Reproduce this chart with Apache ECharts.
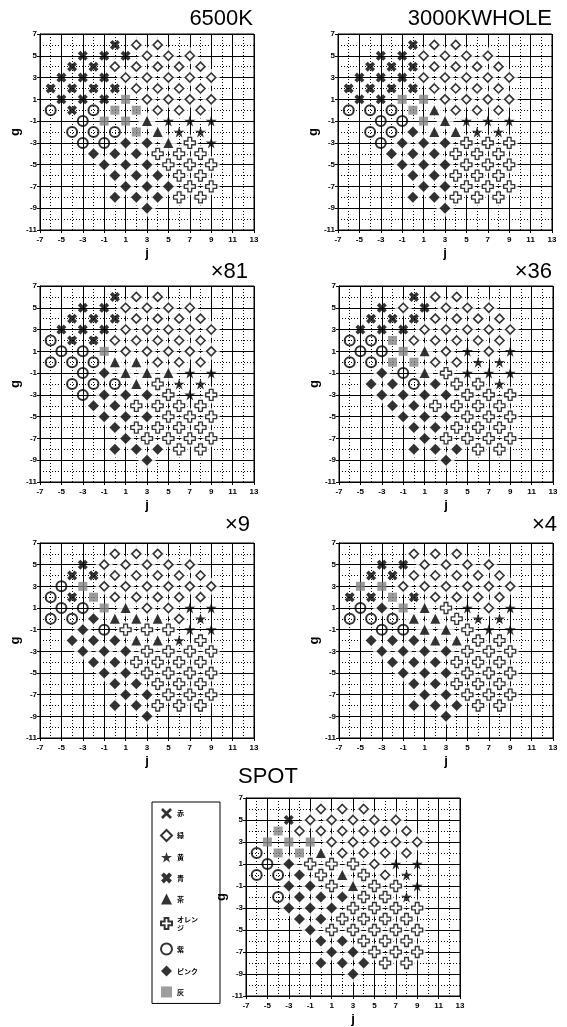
<!DOCTYPE html>
<html><head><meta charset="utf-8">
<script src="https://cdn.jsdelivr.net/npm/echarts@6/dist/echarts.min.js"></script>
<style>html,body{margin:0;padding:0;background:#fff}#c{width:567px;height:1027px}</style>
</head><body><div id="c"></div><script>
// ---------------- DATA ----------------
const categories = ['赤','緑','黄','青','茶','オレンジ','紫','ピンク','灰'];
const panelTitles = ['6500K','3000KWHOLE','×81','×36','×9','×4','SPOT'];
const jTicks = {min:-7, max:13, step:2, minorStep:1};
const gTicks = {min:-11, max:7, step:2, minorStep:1};

// Panel 1: 6500K
const k6500_ao = [[0,6],[-3,5],[-1,5],[1,5],[-4,4],[-2,4],[-5,3],[-3,3],[-1,3],[-6,2],[-4,2],[-2,2],[0,2],[-5,1],[-3,1],[-1,1],[-4,0]];
const k6500_midori = [[2,6],[4,6],[3,5],[5,5],[7,5],[0,4],[2,4],[4,4],[6,4],[8,4],[1,3],[3,3],[5,3],[7,3],[9,3],[2,2],[4,2],[6,2],[8,2],[3,1],[5,1],[7,1],[9,1],[4,0],[6,0],[8,0]];
const k6500_hai = [[1,1],[0,0],[2,0],[-1,-1],[1,-1],[2,-2]];
const k6500_murasaki = [[-6,0],[-2,0],[-3,-1],[-4,-2],[-2,-2],[0,-2],[-3,-3],[-1,-3]];
const k6500_cha = [[3,-1],[4,-2],[5,-3]];
const k6500_ki = [[5,-1],[7,-1],[9,-1],[6,-2],[8,-2],[9,-3]];
const k6500_orange = [[7,-3],[4,-4],[6,-4],[8,-4],[5,-5],[7,-5],[9,-5],[6,-6],[8,-6],[7,-7],[9,-7],[6,-8],[8,-8]];
const k6500_pink = [[1,-3],[3,-3],[-2,-4],[0,-4],[2,-4],[-1,-5],[1,-5],[3,-5],[0,-6],[2,-6],[4,-6],[1,-7],[3,-7],[5,-7],[0,-8],[2,-8],[4,-8],[3,-9]];

// Panel 2: 3000KWHOLE
const k3000_ao = [[0,6],[-3,5],[-1,5],[-4,4],[-2,4],[0,4],[-5,3],[-3,3],[-1,3],[-6,2],[-4,2],[-2,2],[0,2],[-5,1],[-3,1]];
const k3000_midori = [[2,6],[4,6],[1,5],[3,5],[5,5],[7,5],[2,4],[4,4],[6,4],[8,4],[1,3],[3,3],[5,3],[7,3],[9,3],[2,2],[4,2],[6,2],[8,2],[3,1],[5,1],[7,1],[9,1],[4,0],[6,0],[8,0]];
const k3000_hai = [[-1,1],[1,1],[0,0],[1,-1]];
const k3000_murasaki = [[-6,0],[-4,0],[-2,0],[-3,-1],[-1,-1],[-4,-2],[-2,-2],[-3,-3]];
const k3000_cha = [[2,0],[3,-1],[2,-2],[4,-2]];
const k3000_ki = [[5,-1],[7,-1],[9,-1],[6,-2],[8,-2]];
const k3000_orange = [[5,-3],[7,-3],[9,-3],[4,-4],[6,-4],[8,-4],[5,-5],[7,-5],[9,-5],[4,-6],[6,-6],[8,-6],[5,-7],[7,-7],[9,-7],[4,-8],[6,-8],[8,-8]];
const k3000_pink = [[0,-2],[-1,-3],[1,-3],[3,-3],[-2,-4],[0,-4],[2,-4],[-1,-5],[1,-5],[3,-5],[0,-6],[2,-6],[1,-7],[3,-7],[0,-8],[2,-8],[3,-9]];

// Panel 3: x81
const x81_ao = [[0,6],[-3,5],[-1,5],[-4,4],[-2,4],[0,4],[-5,3],[-3,3],[-1,3],[-4,2],[-2,2]];
const x81_midori = [[2,6],[4,6],[1,5],[3,5],[5,5],[7,5],[2,4],[4,4],[6,4],[8,4],[1,3],[3,3],[5,3],[7,3],[9,3],[0,2],[2,2],[4,2],[6,2],[8,2],[1,1],[3,1],[5,1],[7,1],[9,1],[4,0],[6,0],[8,0]];
const x81_hai = [[-1,1]];
const x81_murasaki = [[-6,2],[-5,1],[-3,1],[-6,0],[-4,0],[-2,0],[-3,-1],[-4,-2],[-2,-2],[0,-2],[-3,-3]];
const x81_cha = [[0,0],[2,0],[1,-1],[3,-1],[5,-1],[2,-2]];
const x81_ki = [[7,-1],[9,-1],[6,-2],[8,-2],[7,-3]];
const x81_orange = [[4,-2],[5,-3],[9,-3],[2,-4],[4,-4],[6,-4],[8,-4],[5,-5],[7,-5],[9,-5],[2,-6],[4,-6],[6,-6],[8,-6],[3,-7],[5,-7],[7,-7],[9,-7],[6,-8],[8,-8]];
const x81_pink = [[-1,-1],[-1,-3],[1,-3],[3,-3],[-2,-4],[0,-4],[-1,-5],[1,-5],[3,-5],[0,-6],[1,-7],[0,-8],[2,-8],[4,-8],[3,-9]];

// Panel 4: x36
const x36_ao = [[0,6],[-3,5],[1,5],[-4,4],[-2,4],[0,4],[-5,3],[-3,3],[-1,3]];
const x36_midori = [[2,6],[4,6],[-1,5],[3,5],[5,5],[7,5],[2,4],[4,4],[6,4],[8,4],[1,3],[3,3],[5,3],[7,3],[9,3],[0,2],[2,2],[4,2],[6,2],[8,2],[3,1],[7,1],[2,0],[4,0]];
const x36_hai = [[-2,2],[-1,1],[-2,0],[0,0]];
const x36_murasaki = [[-6,2],[-4,2],[-5,1],[-3,1],[-6,0],[-4,0],[-1,-1],[0,-2]];
const x36_cha = [[1,1],[1,-1]];
const x36_ki = [[5,1],[9,1],[6,0],[8,0],[5,-1],[7,-1],[9,-1],[8,-2]];
const x36_orange = [[3,-1],[4,-2],[6,-2],[5,-3],[7,-3],[9,-3],[2,-4],[4,-4],[6,-4],[8,-4],[5,-5],[7,-5],[9,-5],[4,-6],[6,-6],[8,-6],[3,-7],[5,-7],[7,-7],[9,-7],[6,-8],[8,-8]];
const x36_pink = [[-3,-1],[-4,-2],[-2,-2],[2,-2],[-3,-3],[-1,-3],[1,-3],[3,-3],[-2,-4],[0,-4],[-1,-5],[1,-5],[3,-5],[0,-6],[2,-6],[1,-7],[0,-8],[2,-8],[4,-8],[3,-9]];

// Panel 5: x9
const x9_ao = [[-3,5],[-4,4],[-2,4],[-4,2]];
const x9_midori = [[0,6],[2,6],[4,6],[-1,5],[1,5],[3,5],[5,5],[7,5],[0,4],[2,4],[4,4],[6,4],[8,4],[-1,3],[1,3],[3,3],[5,3],[7,3],[9,3],[0,2],[2,2],[4,2],[6,2],[8,2],[3,1],[5,1],[6,0]];
const x9_hai = [[-3,3],[-2,2],[-1,1]];
const x9_murasaki = [[-5,3],[-6,2],[-5,1],[-3,1],[-6,0],[-4,0],[-1,-1]];
const x9_cha = [[1,1],[0,0],[2,0],[4,0],[2,-2],[4,-2]];
const x9_ki = [[7,1],[9,1],[8,0],[7,-1],[9,-1],[6,-2]];
const x9_orange = [[1,-1],[3,-1],[5,-1],[8,-2],[3,-3],[5,-3],[7,-3],[9,-3],[2,-4],[4,-4],[6,-4],[8,-4],[3,-5],[5,-5],[7,-5],[9,-5],[4,-6],[6,-6],[8,-6],[5,-7],[7,-7],[9,-7],[4,-8],[6,-8],[8,-8]];
const x9_pink = [[-2,0],[-3,-1],[-4,-2],[-2,-2],[0,-2],[-3,-3],[-1,-3],[1,-3],[-2,-4],[0,-4],[-1,-5],[1,-5],[0,-6],[2,-6],[1,-7],[3,-7],[0,-8],[2,-8],[3,-9]];

// Panel 6: x4
const x4_ao = [[-3,5],[-1,5],[-4,4],[-2,4],[-6,2],[-4,2],[0,2]];
const x4_midori = [[0,6],[2,6],[4,6],[1,5],[3,5],[5,5],[7,5],[0,4],[2,4],[4,4],[6,4],[8,4],[-1,3],[1,3],[3,3],[5,3],[7,3],[9,3],[2,2],[4,2],[6,2],[8,2],[7,1]];
const x4_hai = [[-5,3],[-3,3],[-2,2],[-1,1]];
const x4_murasaki = [[-5,1],[-6,0],[-4,0],[-2,0],[-3,-1],[-1,-1]];
const x4_cha = [[1,1],[0,0],[2,0],[1,-1],[3,-1],[2,-2],[4,-2]];
const x4_ki = [[5,1],[9,1],[6,0],[8,0],[7,-1],[9,-1]];
const x4_orange = [[3,1],[4,0],[5,-1],[6,-2],[8,-2],[5,-3],[7,-3],[9,-3],[4,-4],[6,-4],[8,-4],[5,-5],[7,-5],[9,-5],[4,-6],[6,-6],[8,-6],[5,-7],[7,-7],[9,-7],[6,-8],[8,-8]];
const x4_pink = [[-3,1],[-4,-2],[-2,-2],[0,-2],[-3,-3],[-1,-3],[1,-3],[3,-3],[-2,-4],[0,-4],[2,-4],[-1,-5],[1,-5],[3,-5],[0,-6],[2,-6],[1,-7],[3,-7],[0,-8],[2,-8],[4,-8],[3,-9]];

// Panel 7: SPOT
const spot_ao = [[-3,5]];
const spot_midori = [[0,6],[2,6],[4,6],[-1,5],[1,5],[3,5],[5,5],[7,5],[-2,4],[0,4],[2,4],[4,4],[6,4],[8,4],[1,3],[3,3],[5,3],[7,3],[9,3],[2,2],[4,2],[6,2],[8,2],[5,1],[6,0]];
const spot_hai = [[-4,4],[-5,3],[-3,3],[-1,3],[-4,2],[-2,2]];
const spot_murasaki = [[-6,2],[-5,1],[-6,0],[-4,0],[-4,-2]];
const spot_cha = [[0,2],[2,0],[3,-1]];
const spot_ki = [[7,1],[9,1],[8,0],[9,-1],[8,-2]];
const spot_orange = [[-1,1],[1,1],[3,1],[0,0],[4,0],[1,-1],[5,-1],[7,-1],[4,-2],[6,-2],[3,-3],[5,-3],[7,-3],[9,-3],[2,-4],[4,-4],[6,-4],[8,-4],[1,-5],[3,-5],[5,-5],[7,-5],[9,-5],[4,-6],[6,-6],[8,-6],[5,-7],[7,-7],[9,-7],[6,-8],[8,-8]];
const spot_pink = [[-3,1],[-2,0],[-3,-1],[-1,-1],[-2,-2],[0,-2],[2,-2],[-3,-3],[-1,-3],[1,-3],[-2,-4],[0,-4],[-1,-5],[0,-6],[2,-6],[1,-7],[3,-7],[0,-8],[2,-8],[4,-8],[3,-9]];

const panels = [
  {'赤':[], '青':k6500_ao, '緑':k6500_midori, '灰':k6500_hai, '紫':k6500_murasaki, '茶':k6500_cha, '黄':k6500_ki, 'オレンジ':k6500_orange, 'ピンク':k6500_pink},
  {'赤':[], '青':k3000_ao, '緑':k3000_midori, '灰':k3000_hai, '紫':k3000_murasaki, '茶':k3000_cha, '黄':k3000_ki, 'オレンジ':k3000_orange, 'ピンク':k3000_pink},
  {'赤':[], '青':x81_ao, '緑':x81_midori, '灰':x81_hai, '紫':x81_murasaki, '茶':x81_cha, '黄':x81_ki, 'オレンジ':x81_orange, 'ピンク':x81_pink},
  {'赤':[], '青':x36_ao, '緑':x36_midori, '灰':x36_hai, '紫':x36_murasaki, '茶':x36_cha, '黄':x36_ki, 'オレンジ':x36_orange, 'ピンク':x36_pink},
  {'赤':[], '青':x9_ao, '緑':x9_midori, '灰':x9_hai, '紫':x9_murasaki, '茶':x9_cha, '黄':x9_ki, 'オレンジ':x9_orange, 'ピンク':x9_pink},
  {'赤':[], '青':x4_ao, '緑':x4_midori, '灰':x4_hai, '紫':x4_murasaki, '茶':x4_cha, '黄':x4_ki, 'オレンジ':x4_orange, 'ピンク':x4_pink},
  {'赤':[], '青':spot_ao, '緑':spot_midori, '灰':spot_hai, '紫':spot_murasaki, '茶':spot_cha, '黄':spot_ki, 'オレンジ':spot_orange, 'ピンク':spot_pink}
];

// ---------------- STYLE / LAYOUT ----------------
const SYM = {
  '赤': 'path://M1,2.4L2.4,1L5,3.6L7.6,1L9,2.4L6.4,5L9,7.6L7.6,9L5,6.4L2.4,9L1,7.6L3.6,5Z',
  '青': 'path://M0,2.6L2.6,0L5,2.4L7.4,0L10,2.6L7.6,5L10,7.4L7.4,10L5,7.6L2.6,10L0,7.4L2.4,5Z',
  '緑': 'diamond',
  '黄': 'path://M5,0L6.18,3.62L10,3.62L6.91,5.86L8.09,9.5L5,7.24L1.91,9.5L3.09,5.86L0,3.62L3.82,3.62Z',
  '茶': 'triangle',
  'オレンジ': 'path://M3.3,0H6.7V3.3H10V6.7H6.7V10H3.3V6.7H0V3.3H3.3Z',
  '紫': 'circle',
  'ピンク': 'diamond',
  '灰': 'rect'
};
const SIZE = {'赤':10,'青':10,'緑':9,'黄':11,'茶':10,'オレンジ':11,'紫':10,'ピンク':11,'灰':9};
const STYLE = {
  '赤': {color:'#000'},
  '青': {color:'#000'},
  '緑': {color:'#fff', borderColor:'#000', borderWidth:1.6},
  '黄': {color:'#000'},
  '茶': {color:'#000'},
  'オレンジ': {color:'#fff', borderColor:'#000', borderWidth:1.3},
  '紫': {color:'rgba(255,255,255,0)', borderColor:'#000', borderWidth:2},
  'ピンク': {color:'#000'},
  '灰': {color:'#858585'}
};
const haloCats = ['緑','ピンク','オレンジ','茶'];

const grids = [
  {left:40, top:34, width:214, height:196},
  {left:338, top:34, width:214, height:196},
  {left:40, top:286, width:214, height:196},
  {left:339, top:286, width:214, height:196},
  {left:40, top:543, width:214, height:195},
  {left:339, top:543, width:214, height:195},
  {left:246, top:798, width:214, height:198}
];
const titlePos = [
  {right:314, top:8}, {right:15, top:8},
  {right:319, top:261}, {right:15, top:261},
  {right:317, top:514}, {right:10, top:514},
  {left:238, top:766}
];

const tickFont = {fontSize:8, fontWeight:'bold', fontFamily:'Liberation Sans', color:'#000'};
const option = {
  animation:false,
  backgroundColor:'#fff',
  title:[], grid:[], xAxis:[], yAxis:[], series:[],
  legend:{
    orient:'vertical', left:152, top:802,
    data: categories.map(c => ({name:c, icon:SYM[c]})),
    itemWidth:11, itemHeight:11, itemGap:10,
    padding:[6,22,6,8],
    borderColor:'#000', borderWidth:1, borderRadius:0,
    selectedMode:false,
    textStyle:{fontSize:7, fontFamily:'Noto Sans CJK JP', fontWeight:'bold', color:'#000', lineHeight:9},
    formatter: n => n === 'オレンジ' ? 'オレン\nジ' : n
  }
};

panels.forEach((p, i) => {
  option.title.push(Object.assign({
    text: panelTitles[i], padding:0,
    textStyle:{fontSize:22, fontWeight:'normal', fontFamily:'Liberation Sans', color:'#000'}
  }, titlePos[i]));
  option.grid.push(Object.assign({show:true, borderColor:'#000', borderWidth:1, backgroundColor:'#fff', outerBoundsMode:'none', containLabel:false}, grids[i]));
  const axisCommon = {
    type:'value',
    nameLocation:'middle',
    nameTextStyle:{fontSize:13, fontWeight:'bold', fontFamily:'Liberation Sans', color:'#000'},
    axisLine:{show:true, onZero:false, lineStyle:{color:'#000', width:1}},
    axisTick:{show:true, length:3, lineStyle:{color:'#000'}},
    splitLine:{show:true, lineStyle:{color:'#000', width:1}},
    minorTick:{show:false}, minorSplitLine:{show:false}, z:1
  };
  // auxiliary axes: dotted grid lines at every integer (the odd ones sit under the solid lines)
  const auxCommon = {
    type:'value', z:0,
    axisLine:{show:false}, axisTick:{show:false}, axisLabel:{show:false},
    splitLine:{show:true, lineStyle:{color:'#000', width:1, type:[1,2]}},
    minorTick:{show:false}, minorSplitLine:{show:false}
  };
  option.xAxis.push(Object.assign({}, axisCommon, {
    gridIndex:i, min:jTicks.min, max:jTicks.max, interval:jTicks.step,
    name:'j', nameGap:17,
    axisLabel:Object.assign({margin:6, hideOverlap:false}, tickFont)
  }));
  option.xAxis.push(Object.assign({}, auxCommon, {
    gridIndex:i, min:jTicks.min, max:jTicks.max, interval:jTicks.minorStep, position:'top'
  }));
  option.yAxis.push(Object.assign({}, axisCommon, {
    gridIndex:i, min:gTicks.min, max:gTicks.max, interval:gTicks.step,
    name:'g', nameGap:18, nameRotate:90,
    axisLabel:Object.assign({margin:3, hideOverlap:false}, tickFont)
  }));
  option.yAxis.push(Object.assign({}, auxCommon, {
    gridIndex:i, min:gTicks.min, max:gTicks.max, interval:gTicks.minorStep, position:'right'
  }));
  const xi = 2 * i, yi = 2 * i;
  const halo = [].concat(...haloCats.map(c => p[c]));
  option.series.push({
    type:'scatter', xAxisIndex:xi, yAxisIndex:yi, symbol:'circle', symbolSize:17,
    itemStyle:{color:'#fff'}, data:halo, z:2, silent:true
  });
  categories.forEach(c => {
    option.series.push({
      name:c, type:'scatter', xAxisIndex:xi, yAxisIndex:yi,
      symbol:SYM[c], symbolSize:SIZE[c], itemStyle:STYLE[c],
      data:p[c], z:3, silent:true
    });
  });
});

const chart = echarts.init(document.getElementById('c'), null, {renderer:'canvas'});
chart.setOption(option);
</script></body></html>
